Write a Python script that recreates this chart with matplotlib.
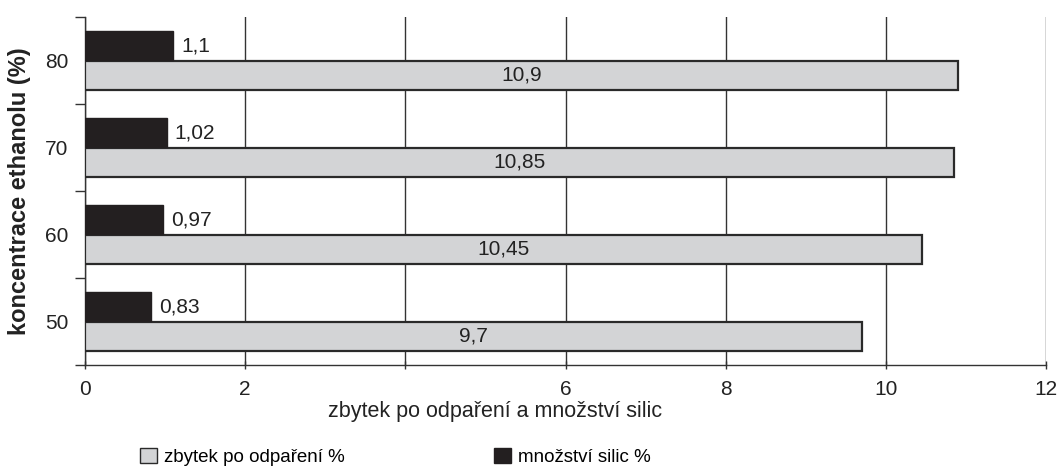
import matplotlib
matplotlib.use("Agg")
import matplotlib.pyplot as plt
import numpy as np
from matplotlib.patches import Patch

plt.rcParams['font.family'] = ['Liberation Sans', 'DejaVu Sans']

categories = ["50", "60", "70", "80"]
zbytek = [9.7, 10.45, 10.85, 10.9]
silice = [0.83, 0.97, 1.02, 1.1]
zbytek_labels = ["9,7", "10,45", "10,85", "10,9"]
silice_labels = ["0,83", "0,97", "1,02", "1,1"]
xticks = [0, 2, 4, 6, 8, 10, 12]
xtick_labels = ["0", "2", "", "6", "8", "10", "12"]

light = "#d3d4d6"
dark = "#231f20"
edge = "#2a2a2a"
txt = "#222222"

fig = plt.figure(figsize=(10.6, 4.68), dpi=100)
ax = fig.add_axes([85/1060, 1-365/468, (1046-85)/1060, (365-17)/468])

y = np.arange(len(categories))
h = 0.335
off = 0.17
ax.barh(y - off, zbytek, height=h, color=light, edgecolor=edge, linewidth=1.6, zorder=3)
ax.barh(y + off, silice, height=h, color=dark, edgecolor=dark, linewidth=1.0, zorder=3)

for yi, v, lab in zip(y, zbytek, zbytek_labels):
    ax.text(v / 2, yi - off, lab, ha="center", va="center", fontsize=15, color=txt, zorder=4)
for yi, v, lab in zip(y, silice, silice_labels):
    ax.text(v + 0.1, yi + off, lab, ha="left", va="center", fontsize=15, color=txt, zorder=4)

ax.set_xlim(0, 12)
ax.set_ylim(-0.5, 3.5)
ax.set_xticks(xticks)
ax.set_xticklabels(xtick_labels, fontsize=15, color=txt)
ax.set_yticks(y)
ax.set_yticklabels(categories, fontsize=15, color=txt)
ax.tick_params(axis="y", which="major", length=0, pad=12)
ax.set_yticks(np.arange(-0.5, 3.6, 1.0), minor=True)
ax.tick_params(axis="y", which="minor", length=7, width=1.0, color="#333333", direction="out")
ax.tick_params(axis="x", which="major", length=6, width=1.0, color="#333333", direction="inout", pad=8)

ax.grid(axis="x", color="#333333", linewidth=1.0, zorder=0)
ax.set_axisbelow(True)
for s in ["top", "right"]:
    ax.spines[s].set_visible(False)
for s in ["left", "bottom"]:
    ax.spines[s].set_color("#333333")
    ax.spines[s].set_linewidth(1.0)

fig.text(495/1060, 1-411/468, "zbytek po odpaření a množství silic", ha="center", va="center",
         fontsize=15.5, color=txt)
ax.set_ylabel("koncentrace ethanolu (%)", fontsize=17, fontweight="bold", color=txt, labelpad=10)

h1 = [Patch(facecolor=light, edgecolor=edge, linewidth=1.0, label="zbytek po odpaření %")]
h2 = [Patch(facecolor=dark, edgecolor=dark, label="množství silic %")]
for hh, xp in [(h1, 140), (h2, 494)]:
    fig.legend(handles=hh, loc="center left", bbox_to_anchor=(xp/1060, 1-457/468),
               frameon=False, fontsize=13.5, handlelength=0.9, handleheight=0.9,
               handletextpad=0.4, borderaxespad=0, borderpad=0)

fig.savefig("out.png", dpi=100)
